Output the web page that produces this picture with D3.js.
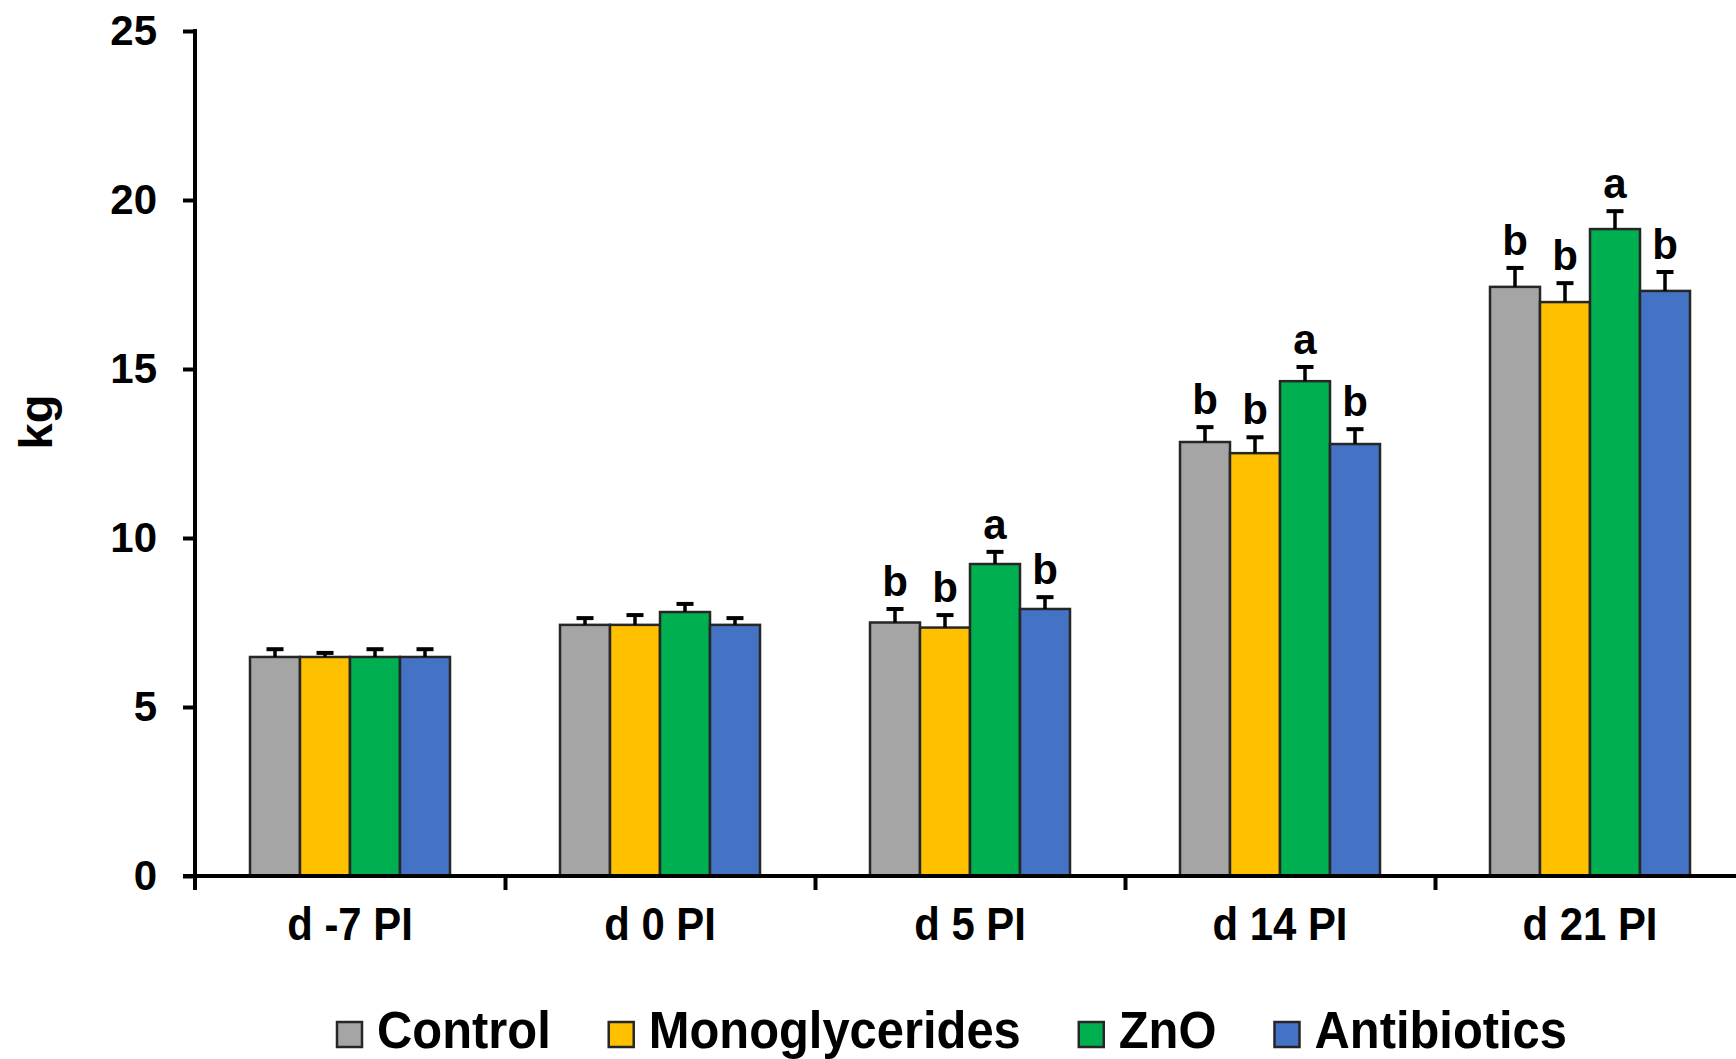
<!DOCTYPE html>
<html>
<head>
<meta charset="utf-8">
<script src="https://cdn.jsdelivr.net/npm/d3@7"></script>
<style>
  html, body { margin: 0; padding: 0; background: #fff; }
  svg { display: block; }
  text { font-family: "Liberation Sans", Arial, sans-serif; font-weight: bold; fill: #000; }
</style>
</head>
<body>
<svg id="chart" width="1736" height="1059"></svg>
<script>
// Body weight (kg) by sampling day, per treatment group
const categories = ["d -7 PI", "d 0 PI", "d 5 PI", "d 14 PI", "d 21 PI"];
const seriesNames = ["Control", "Monoglycerides", "ZnO", "Antibiotics"];
const seriesColors = ["#A5A5A5", "#FFC000", "#00B050", "#4472C4"];

const controlMean = [6.48, 7.43, 7.50, 12.84, 17.43];
const monoMean    = [6.48, 7.43, 7.35, 12.51, 16.98];
const znoMean     = [6.48, 7.81, 9.23, 14.64, 19.14];
const abxMean     = [6.48, 7.43, 7.90, 12.78, 17.31];

const controlSem = [0.23, 0.20, 0.40, 0.44, 0.56];
const monoSem    = [0.12, 0.29, 0.37, 0.47, 0.56];
const znoSem     = [0.23, 0.24, 0.36, 0.42, 0.53];
const abxSem     = [0.23, 0.20, 0.35, 0.44, 0.56];

const controlLetters = ["", "", "b", "b", "b"];
const monoLetters    = ["", "", "b", "b", "b"];
const znoLetters     = ["", "", "a", "a", "a"];
const abxLetters     = ["", "", "b", "b", "b"];

const yTicks = [0, 5, 10, 15, 20, 25];
const yLabel = "kg";

const means = [controlMean, monoMean, znoMean, abxMean];
const sems = [controlSem, monoSem, znoSem, abxSem];
const letters = [controlLetters, monoLetters, znoLetters, abxLetters];

const rows = [];
categories.forEach((cat, ci) => {
  seriesNames.forEach((s, si) => {
    rows.push({ cat, series: s, si, value: means[si][ci], sem: sems[si][ci], letter: letters[si][ci] });
  });
});

const svg = d3.select("#chart");
const plotLeft = 195, plotTop = 31, plotBottom = 876, bandW = 310;

const x = d3.scaleBand().domain(categories)
  .range([plotLeft, plotLeft + bandW * categories.length])
  .paddingInner(0).paddingOuter(0);
const xInner = d3.scaleBand().domain(seriesNames)
  .range([55, 255]).paddingInner(0).paddingOuter(0);
const y = d3.scaleLinear().domain([0, 25]).range([plotBottom, plotTop]);
const color = d3.scaleOrdinal().domain(seriesNames).range(seriesColors);

// Bars
const bars = svg.append("g");
bars.selectAll("rect").data(rows).join("rect")
  .attr("x", d => x(d.cat) + xInner(d.series))
  .attr("y", d => y(d.value))
  .attr("width", xInner.bandwidth())
  .attr("height", d => y(0) - y(d.value))
  .attr("fill", d => color(d.series))
  .attr("stroke", "#262626")
  .attr("stroke-width", 2.5);

// Error bars (upper only)
const cx = d => x(d.cat) + xInner(d.series) + xInner.bandwidth() / 2;
const eb = svg.append("g").attr("stroke", "#000");
eb.selectAll("line.v").data(rows).join("line").attr("class", "v")
  .attr("x1", cx).attr("x2", cx)
  .attr("y1", d => y(d.value)).attr("y2", d => y(d.value + d.sem))
  .attr("stroke-width", 3.5);
eb.selectAll("line.c").data(rows).join("line").attr("class", "c")
  .attr("x1", d => cx(d) - 8.5).attr("x2", d => cx(d) + 8.5)
  .attr("y1", d => y(d.value + d.sem)).attr("y2", d => y(d.value + d.sem))
  .attr("stroke-width", 4);

// Significance letters
svg.append("g").selectAll("text").data(rows.filter(d => d.letter)).join("text")
  .attr("x", cx)
  .attr("y", d => y(d.value + d.sem) - 13)
  .attr("text-anchor", "middle")
  .attr("font-size", 42)
  .text(d => d.letter);

// Y axis
const yAxis = d3.axisLeft(y).tickValues(yTicks).tickSize(12).tickPadding(26).tickFormat(d3.format("d"));
const gy = svg.append("g").attr("transform", `translate(${plotLeft},0)`).call(yAxis);
gy.select(".domain").remove();
gy.selectAll(".tick line").attr("stroke", "#000").attr("stroke-width", 4);
gy.selectAll(".tick text").attr("font-size", 42).attr("font-family", "Liberation Sans, Arial, sans-serif")
  .attr("font-weight", "bold").attr("fill", "#000");
gy.append("line").attr("x1", 0).attr("x2", 0)
  .attr("y1", plotTop - 2).attr("y2", plotBottom + 14)
  .attr("stroke", "#000").attr("stroke-width", 4);

// X axis: ticks at category boundaries
const xb = d3.scaleLinear().domain([0, categories.length]).range(x.range());
const xAxis = d3.axisBottom(xb).tickValues(d3.range(1, categories.length + 1)).tickSize(14).tickFormat("");
const gx = svg.append("g").attr("transform", `translate(0,${plotBottom})`).call(xAxis);
gx.select(".domain").remove();
gx.selectAll(".tick line").attr("stroke", "#000").attr("stroke-width", 4);
gx.append("line").attr("x1", plotLeft - 12).attr("x2", x.range()[1])
  .attr("y1", 0).attr("y2", 0).attr("stroke", "#000").attr("stroke-width", 4);

// Category labels
svg.append("g").selectAll("text").data(categories).join("text")
  .attr("transform", d => `translate(${x(d) + x.bandwidth() / 2},940) scale(0.91,1)`)
  .attr("text-anchor", "middle")
  .attr("font-size", 46)
  .text(d => d);

// Y label
svg.append("text")
  .attr("transform", "translate(52,422) rotate(-90)")
  .attr("text-anchor", "middle")
  .attr("font-size", 47)
  .text(yLabel);

// Legend
const legendScale = 0.94;
const legend = svg.append("g").attr("transform", "translate(337,0)");
let lx = 0;
seriesNames.forEach((name, i) => {
  const g = legend.append("g").attr("transform", `translate(${lx},0)`);
  g.append("rect").attr("x", 0).attr("y", 1022).attr("width", 25).attr("height", 25)
    .attr("fill", seriesColors[i]).attr("stroke", "#262626").attr("stroke-width", 2.5);
  const t = g.append("text")
    .attr("transform", `translate(40,1048) scale(${legendScale},1)`)
    .attr("font-size", 52)
    .text(name);
  const w = t.node().getComputedTextLength() * legendScale;
  lx += 40 + w + 58;
});
</script>
</body>
</html>
